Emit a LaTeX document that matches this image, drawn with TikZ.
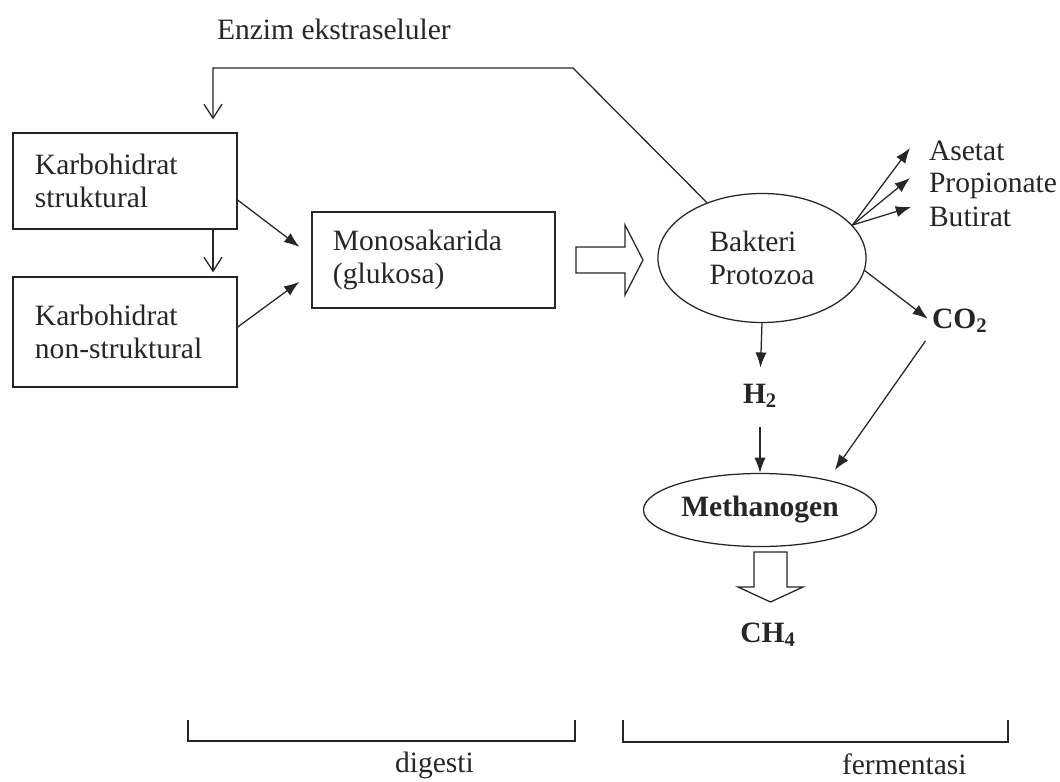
\documentclass[tikz,border=0pt]{standalone}
\usepackage{fontspec}
\setmainfont{Liberation Serif}
\usetikzlibrary{arrows.meta, shapes.geometric}

\begin{document}
\begin{tikzpicture}[x=0.025cm, y=-0.025cm, line width=0.9pt, color=black!85,
  font=\fontsize{21}{24}\selectfont,
  kotak/.style={draw, rectangle, align=left, inner ysep=0pt},
  elips/.style={draw, ellipse, inner sep=0pt},
  keterangan/.style={inner sep=1pt},
  panah buka/.style={-{Straight Barb[length=0.35cm, width=0.45cm]}},
  panah isi/.style={-{Latex[length=0.38cm, width=0.28cm]}}]

  \useasboundingbox (0,0) rectangle (1060,782);

  % digesti
  \node[kotak, text width=4.5cm, inner xsep=0.55cm, minimum height=2.4cm] (kotakA) at (125,181) {Karbohidrat\\struktural};
  \node[kotak, text width=4.5cm, inner xsep=0.55cm, minimum height=2.75cm] (kotakB) at (125,332) {Karbohidrat\\non-struktural};
  \node[kotak, text width=5.025cm, inner xsep=0.525cm, minimum height=2.4cm] (kotakC) at (433.5,260) {Monosakarida\\(glukosa)};

  % fermentasi
  \node[elips, minimum width=5.2cm, minimum height=3.225cm, align=left] (bakteri) at (762,258) {Bakteri\\Protozoa};
  \node[elips, minimum width=5.825cm, minimum height=1.825cm] (metan) at (760,510) {\textbf{Methanogen}};

  \node[keterangan, anchor=base west] (enzim) at (215,40) {Enzim ekstraseluler};
  \node[keterangan, anchor=base west] (asetat) at (927,160) {Asetat};
  \node[keterangan, anchor=base west] (propionat) at (927,192) {Propionate};
  \node[keterangan, anchor=base west] (butirat) at (927,226) {Butirat};
  \node[keterangan, anchor=base west] (co2) at (930,328) {\textbf{CO\textsubscript{2}}};
  \node[keterangan, anchor=base] (h2) at (760,403) {\textbf{H\textsubscript{2}}};
  \node[keterangan, anchor=base] (ch4) at (768,642) {\textbf{CH\textsubscript{4}}};
  \node[keterangan, anchor=base west] (digesti) at (393,772) {digesti};
  \node[keterangan, anchor=base west] (fermentasi) at (840,774) {fermentasi};

  \coordinate (belok) at (573,68);
  \coordinate (ujungA) at (910,148);
  \coordinate (ujungP) at (910,178);
  \coordinate (ujungB) at (911,207);

  \draw[panah buka, shorten >=0.325cm] (bakteri) -- (belok) -| ([xshift=2.2cm]kotakA.north);
  \draw[panah buka, shorten >=0.1cm] ([xshift=2.2cm]kotakA.south) -- ([xshift=2.2cm]kotakB.north);
  \draw[panah isi, shorten >=0.375cm] ([yshift=-0.475cm]kotakA.east) -- ([yshift=0.1cm]kotakC.west);
  \draw[panah isi, shorten >=0.375cm] ([yshift=0.125cm]kotakB.east) -- ([yshift=-0.325cm]kotakC.west);

  % panah besar
  \draw (576,247) -- (625,247) -- (625,225) -- (643,260) -- (625,295) -- (625,273) -- (576,273) -- cycle;
  \draw (754,552) -- (787,552) -- (787,587) -- (803,587) -- (770.5,602) -- (738,587) -- (754,587) -- cycle;

  \draw[panah isi] (bakteri.20) -- (ujungA);
  \draw[panah isi] (bakteri.20) -- (ujungP);
  \draw[panah isi] (bakteri.20) -- (ujungB);
  \draw[panah isi, shorten >=2pt] (bakteri.-7) -- (co2.west);
  \draw[panah isi, shorten >=0.35cm] (bakteri.south) -- (h2.north);
  \draw[panah isi, shorten <=0.45cm] (h2.south) -- (metan.north);
  \draw[panah isi, shorten <=0.2cm, shorten >=0.3cm] (co2.south west) -- (metan.24);

  \draw (188,720) |- (575,741) -- (575,720);
  \draw (623,720) |- (1008,742) -- (1008,720);

\end{tikzpicture}
\end{document}
